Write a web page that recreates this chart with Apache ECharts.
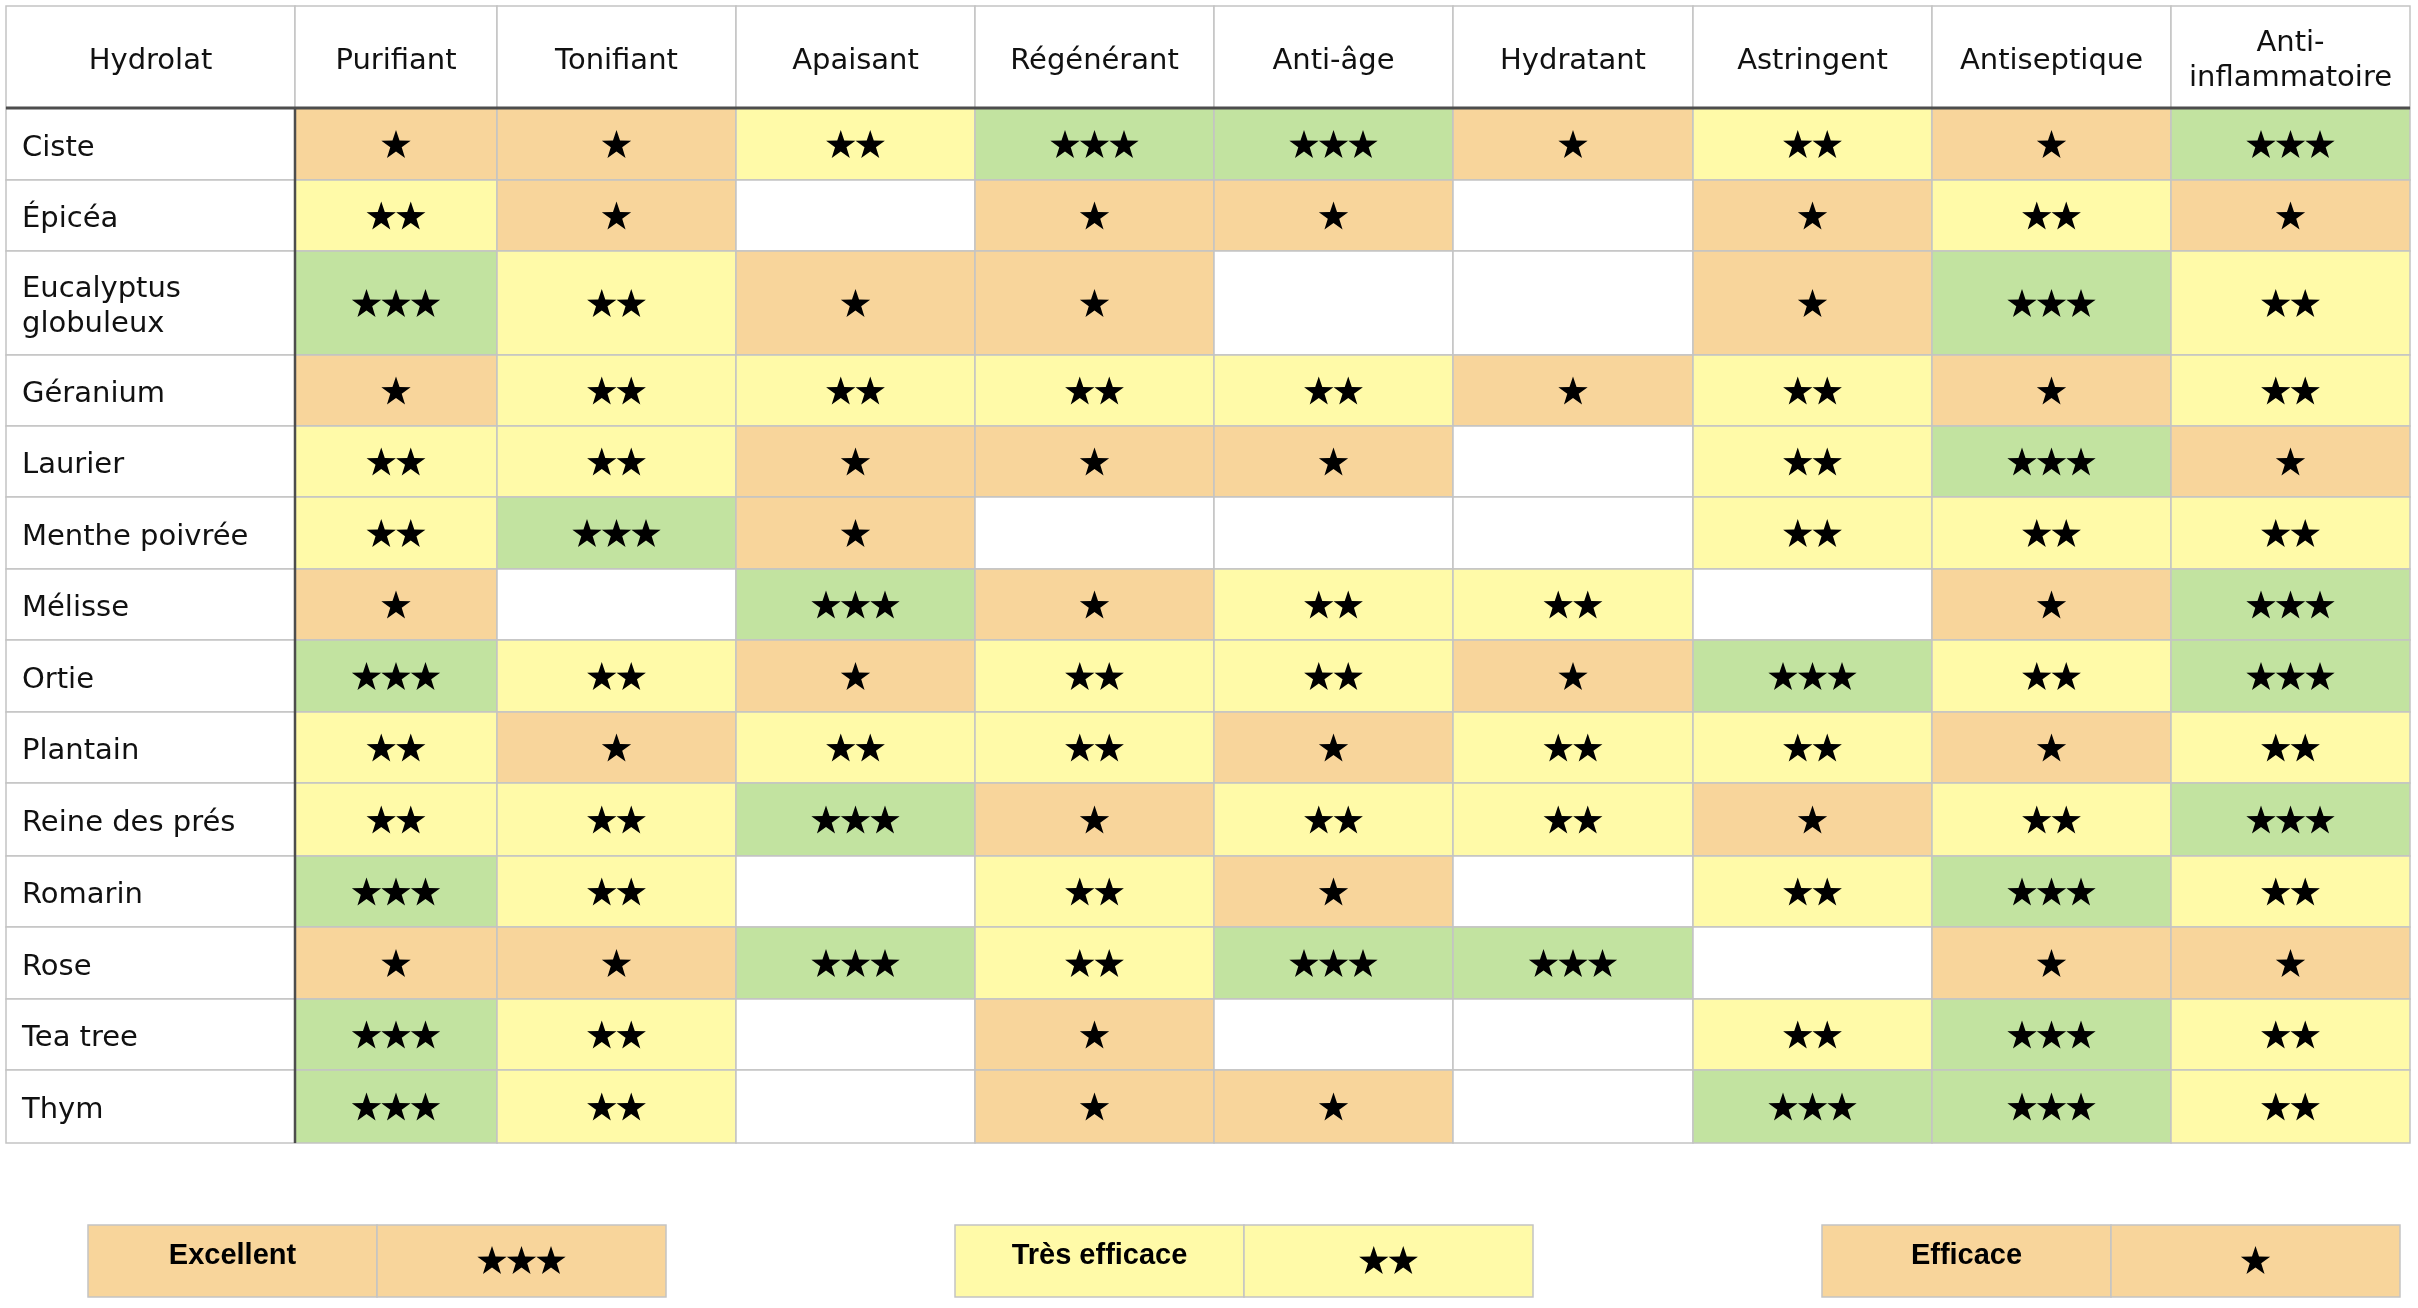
<!DOCTYPE html>
<html><head><meta charset="utf-8">
<script src="https://cdn.jsdelivr.net/npm/echarts@6/dist/echarts.min.js"></script>
<style>html,body{margin:0;padding:0;background:#fff}#c{width:2418px;height:1308px}</style>
</head><body><div id="c"></div>
<script>
// ---------- DATA ----------
const headerLabel = 'Hydrolat';
const hydrolats = ['Ciste','Épicéa','Eucalyptus\nglobuleux','Géranium','Laurier','Menthe poivrée','Mélisse','Ortie','Plantain','Reine des prés','Romarin','Rose','Tea tree','Thym'];
const properties = ['Purifiant','Tonifiant','Apaisant','Régénérant','Anti-âge','Hydratant','Astringent','Antiseptique','Anti-\ninflammatoire'];
// ratings (0 = none, 1 = ★, 2 = ★★, 3 = ★★★), one value per hydrolat
const purifiant         = [1,2,3,1,2,2,1,3,2,2,3,1,3,3];
const tonifiant         = [1,1,2,2,2,3,0,2,1,2,2,1,2,2];
const apaisant          = [2,0,1,2,1,1,3,1,2,3,0,3,0,0];
const regenerant        = [3,1,1,2,1,0,1,2,2,1,2,2,1,1];
const antiAge           = [3,1,0,2,1,0,2,2,1,2,1,3,0,1];
const hydratant         = [1,0,0,1,0,0,2,1,2,2,0,3,0,0];
const astringent        = [2,1,1,2,2,2,0,3,2,1,2,0,2,3];
const antiseptique      = [1,2,3,1,3,2,1,2,1,2,3,1,3,3];
const antiInflammatoire = [3,1,2,2,1,2,3,3,2,3,2,1,2,2];
const ratingsByProperty = [purifiant,tonifiant,apaisant,regenerant,antiAge,hydratant,astringent,antiseptique,antiInflammatoire];
const legendLabels = ['Excellent','Très efficace','Efficace'];
const legendStars  = [3,2,1];

// ---------- LAYOUT / STYLE ----------
const colWidths = [289,202,239,239,239,239,240,239,239,239];
const rowHeights = [102,72,71,104,71,71,72,71,72,71,73,71,72,71,73];
const colEdges = [0]; colWidths.forEach(w => colEdges.push(colEdges[colEdges.length-1] + w));
const rowEdges = [0]; rowHeights.forEach(h => rowEdges.push(rowEdges[rowEdges.length-1] + h));
const TOTAL_W = colEdges[colEdges.length-1], TOTAL_H = rowEdges[rowEdges.length-1];
const levelColors = {0:'#ffffff', 1:'#F8D59B', 2:'#FFFAA8', 3:'#C2E3A0'};
const legendFills = ['#F8D59B','#FFFAA8','#F8D59B'];
const GRID_LINE = '#c4c4c4';
const DARK_LINE = '#4d4d4d';
const FONT = 'DejaVu Sans';
const STAR_R = 15.4, STAR_INNER = 0.39, STAR_STEP = 29.5;

const cellData = [];
ratingsByProperty.forEach((arr, c) => arr.forEach((v, r) => cellData.push([c, r, v])));

function rectOf(api, c0, r0, c1, r1) {
  const a = api.coord([colEdges[c0], rowEdges[r0]]);
  const b = api.coord([colEdges[c1], rowEdges[r1]]);
  return {x: a[0], y: a[1], width: b[0]-a[0], height: b[1]-a[1]};
}
function starPoints(cx, cy, R) {
  const pts = [];
  for (let i = 0; i < 10; i++) {
    const ang = -Math.PI/2 + i*Math.PI/5;
    const r = i % 2 === 0 ? R : R*STAR_INNER;
    pts.push([cx + r*Math.cos(ang), cy + r*Math.sin(ang)]);
  }
  return pts;
}
function starRow(n, cx, cyBox) {
  // cyBox = vertical centre of the star's bounding box
  const cy = cyBox + STAR_R*(1 - Math.cos(Math.PI/5))/2;
  const out = [];
  for (let k = 0; k < n; k++) {
    const x = cx + (k - (n-1)/2)*STAR_STEP;
    out.push({type:'polygon', shape:{points: starPoints(x, cy, STAR_R)}, style:{fill:'#000'}});
  }
  return out;
}

const option = {
  animation: false,
  backgroundColor: '#ffffff',
  grid: [
    {left: 6, top: 6, width: TOTAL_W, height: TOTAL_H},
    {left: 88, top: 1225, width: 2312, height: 72}
  ],
  xAxis: [
    {type:'value', min:0, max:TOTAL_W, show:false, gridIndex:0},
    {type:'value', min:0, max:8, show:false, gridIndex:1}
  ],
  yAxis: [
    {type:'value', min:0, max:TOTAL_H, inverse:true, show:false, gridIndex:0},
    {type:'value', min:0, max:1, inverse:true, show:false, gridIndex:1}
  ],
  series: [
    { // rating cells
      type:'custom', xAxisIndex:0, yAxisIndex:0, data: cellData, z: 2,
      renderItem(params, api) {
        const c = api.value(0), r = api.value(1), v = api.value(2);
        const s = rectOf(api, c+1, r+1, c+2, r+2);
        const children = [{
          type:'rect', shape: s,
          style:{fill: levelColors[v], stroke: GRID_LINE, lineWidth: 1.5}
        }];
        return {type:'group', children: children.concat(starRow(v, s.x + s.width/2, s.y + s.height/2))};
      }
    },
    { // header cells
      type:'custom', xAxisIndex:0, yAxisIndex:0, z: 2,
      data: [headerLabel].concat(properties).map((_, i) => [i]),
      renderItem(params, api) {
        const c = api.value(0);
        const s = rectOf(api, c, 0, c+1, 1);
        const label = c === 0 ? headerLabel : properties[c-1];
        return {type:'group', children:[
          {type:'rect', shape:s, style:{fill:'#fff', stroke: GRID_LINE, lineWidth:1.5}},
          {type:'text', style:{text: label, x: s.x + s.width/2, y: s.y + s.height/2 + 4,
            align:'center', verticalAlign:'middle', fill:'#111', fontFamily: FONT, fontSize: 29, lineHeight: 35}}
        ]};
      }
    },
    { // row label cells
      type:'custom', xAxisIndex:0, yAxisIndex:0, z: 2,
      data: hydrolats.map((_, i) => [i]),
      renderItem(params, api) {
        const r = api.value(0);
        const s = rectOf(api, 0, r+1, 1, r+2);
        return {type:'group', children:[
          {type:'rect', shape:s, style:{fill:'#fff', stroke: GRID_LINE, lineWidth:1.5}},
          {type:'text', style:{text: hydrolats[r], x: s.x + 16, y: s.y + s.height/2 + 4,
            align:'left', verticalAlign:'middle', fill:'#111', fontFamily: FONT, fontSize: 29, lineHeight: 35}}
        ]};
      }
    },
    { // dark separators
      type:'custom', xAxisIndex:0, yAxisIndex:0, z: 5, data: [[0]],
      renderItem(params, api) {
        const h0 = api.coord([0, rowEdges[1]]);
        const h1 = api.coord([TOTAL_W, rowEdges[1]]);
        const v0 = api.coord([colEdges[1], rowEdges[1]]);
        const v1 = api.coord([colEdges[1], TOTAL_H]);
        return {type:'group', children:[
          {type:'line', shape:{x1:h0[0], y1:h0[1], x2:h1[0], y2:h1[1]}, style:{stroke: DARK_LINE, lineWidth: 3}},
          {type:'line', shape:{x1:v0[0], y1:v0[1], x2:v1[0], y2:v1[1]}, style:{stroke: DARK_LINE, lineWidth: 2.5}}
        ]};
      }
    },
    { // legend boxes
      type:'custom', xAxisIndex:1, yAxisIndex:1, z: 2,
      data: legendLabels.map((_, i) => [i, legendStars[i]]),
      renderItem(params, api) {
        const i = api.value(0), n = api.value(1);
        const a = api.coord([3*i, 0]), m = api.coord([3*i+1, 1]), b = api.coord([3*i+2, 1]);
        const h = m[1] - a[1];
        return {type:'group', children:[
          {type:'rect', shape:{x:a[0], y:a[1], width:m[0]-a[0], height:h}, style:{fill: legendFills[i], stroke: GRID_LINE, lineWidth:1.5}},
          {type:'rect', shape:{x:m[0], y:a[1], width:b[0]-m[0], height:h}, style:{fill: legendFills[i], stroke: GRID_LINE, lineWidth:1.5}},
          {type:'text', style:{text: legendLabels[i], x:(a[0]+m[0])/2, y: a[1] + h/2 - 5,
            align:'center', verticalAlign:'middle', fill:'#000', fontFamily:'Liberation Sans', fontWeight:'bold', fontSize: 29}}
        ].concat(starRow(n, (m[0]+b[0])/2, a[1] + h/2 - 1))};
      }
    }
  ]
};
const chart = echarts.init(document.getElementById('c'), null, {renderer:'canvas'});
chart.setOption(option);
</script>
</body></html>
